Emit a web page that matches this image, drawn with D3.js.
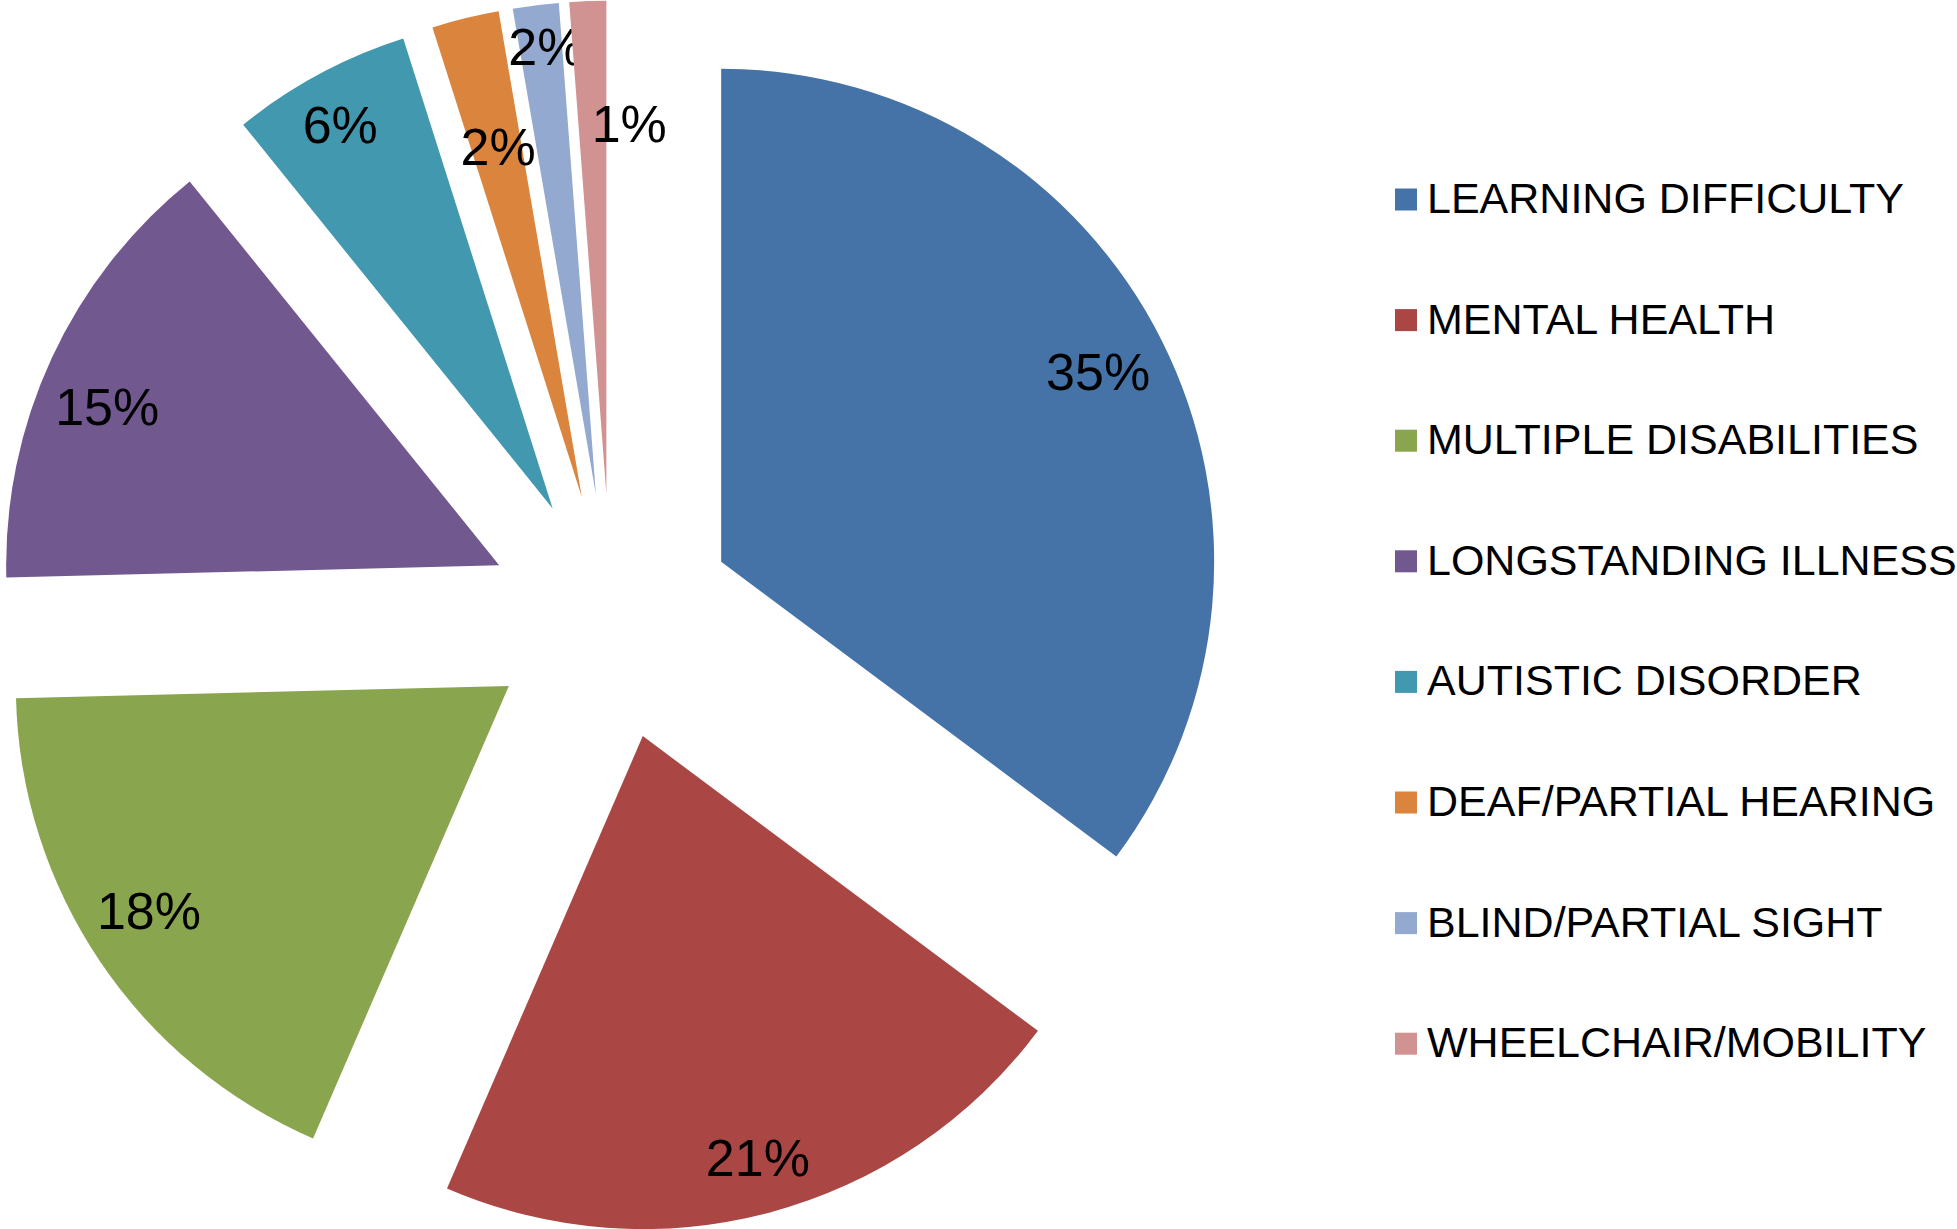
<!DOCTYPE html>
<html>
<head>
<meta charset="utf-8">
<script src="https://cdn.jsdelivr.net/npm/d3@7"></script>
<style>
    body { margin: 0; background: #fff; }
    text { font-family: "Liberation Sans", Arial, sans-serif; fill: #000; }
</style>
</head>
<body>
<script>
(function(){

//chart data
var categories = ["LEARNING DIFFICULTY", "MENTAL HEALTH", "MULTIPLE DISABILITIES", "LONGSTANDING ILLNESS",
    "AUTISTIC DISORDER", "DEAF/PARTIAL HEARING", "BLIND/PARTIAL SIGHT", "WHEELCHAIR/MOBILITY"];
var shares = [35.2, 21.3, 18.1, 14.6, 5.9, 2.2, 1.5, 1.2]; //percent of total
var colors = ["#4572A7", "#AA4643", "#89A54E", "#71588F", "#4198AF", "#DB843D", "#93A9CF", "#D19392"];

//frame
var width = 1957,
    height = 1229;

//pie geometry
var cx = 611, cy = 617,
    radius = 493,
    explode = 0.25 * radius;

//label tweaks (excel best fit), radial fraction and angle shift in degrees
var labelDist = [0.857, 0.885, 0.86, 0.858, 0.89, 0.731, 0.916, 0.753];
var labelShift = [-0.2, -0.35, 2.1, -2.75, -0.7, 0.25, 0.65, 5.7];

var svg = d3.select("body")
    .append("svg")
    .attr("width", width)
    .attr("height", height);

svg.append("rect")
    .attr("width", width)
    .attr("height", height)
    .attr("fill", "#fff");

var data = categories.map(function(c, i){
    return {name: c, value: shares[i], color: colors[i]};
});

var pie = d3.pie()
    .sort(null)
    .value(function(d){ return d.value; });

var arc = d3.arc()
    .innerRadius(0)
    .outerRadius(radius);

var arcs = pie(data);

//polar helper, angle 0 at 12 o'clock going clockwise
function polar(a, dist){
    return [Math.sin(a) * dist, -Math.cos(a) * dist];
}

var slices = svg.append("g")
    .attr("transform", "translate(" + cx + "," + cy + ")");

var slice = slices.selectAll(".slice")
    .data(arcs)
    .enter()
    .append("g")
    .attr("class", "slice")
    .attr("transform", function(d){
        var mid = (d.startAngle + d.endAngle) / 2;
        var p = polar(mid, explode);
        return "translate(" + p[0] + "," + p[1] + ")";
    });

slice.append("path")
    .attr("d", arc)
    .attr("fill", function(d){ return d.data.color; });

//percent labels
var labelSize = 52;
slice.append("text")
    .attr("text-anchor", "middle")
    .style("font-size", labelSize + "px")
    .attr("x", function(d, i){
        var mid = (d.startAngle + d.endAngle) / 2 + labelShift[i] * Math.PI / 180;
        return polar(mid, labelDist[i] * radius)[0];
    })
    .attr("y", function(d, i){
        var mid = (d.startAngle + d.endAngle) / 2 + labelShift[i] * Math.PI / 180;
        return polar(mid, labelDist[i] * radius)[1] + labelSize * 0.358;
    })
    .text(function(d){ return Math.round(d.data.value) + "%"; });

//legend
var legendX = 1395,
    legendY = 199.5,
    legendStep = 120.6,
    box = 22,
    legendSize = 43;

var legend = svg.selectAll(".legend")
    .data(data)
    .enter()
    .append("g")
    .attr("class", "legend")
    .attr("transform", function(d, i){
        return "translate(" + legendX + "," + (legendY + i * legendStep) + ")";
    });

legend.append("rect")
    .attr("x", 0)
    .attr("y", -box / 2)
    .attr("width", box)
    .attr("height", box)
    .attr("fill", function(d){ return d.color; });

legend.append("text")
    .attr("x", 32)
    .attr("y", legendSize * 0.358 - 2)
    .style("font-size", legendSize + "px")
    .text(function(d){ return d.name; });

})();
</script>
</body>
</html>
